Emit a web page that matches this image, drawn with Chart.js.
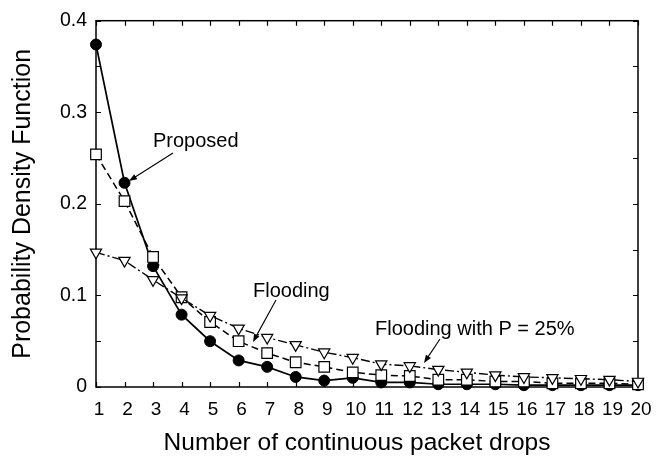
<!DOCTYPE html>
<html>
<head>
<meta charset="utf-8">
<script src="https://cdn.jsdelivr.net/npm/chart.js@4.4.1/dist/chart.umd.min.js"></script>
<style>
  html, body { margin: 0; padding: 0; background: #fff; }
  #wrap { width: 662px; height: 460px; }
</style>
</head>
<body>
<div id="wrap"><canvas id="pdfChart" width="662" height="460"></canvas></div>
<script>
// number of continuous packet drops (x axis)
const drops = [1, 2, 3, 4, 5, 6, 7, 8, 9, 10, 11, 12, 13, 14, 15, 16, 17, 18, 19, 20];

// probability density per scheme
const proposed   = [0.374, 0.223, 0.132, 0.079, 0.050, 0.029, 0.022, 0.011, 0.007, 0.010,
                    0.005, 0.005, 0.003, 0.003, 0.003, 0.002, 0.002, 0.002, 0.002, 0.002];
const flooding   = [0.254, 0.203, 0.142, 0.098, 0.071, 0.050, 0.037, 0.027, 0.022, 0.016,
                    0.013, 0.012, 0.008, 0.008, 0.006, 0.006, 0.004, 0.004, 0.004, 0.003];
const flooding25 = [0.147, 0.138, 0.117, 0.097, 0.078, 0.064, 0.054, 0.046, 0.038, 0.032,
                    0.025, 0.023, 0.019, 0.016, 0.013, 0.011, 0.010, 0.009, 0.008, 0.006];

const yMin = 0, yMax = 0.4, yStep = 0.05;   // labels only every 0.1
const xMin = 1, xMax = 20;
const xTitle = 'Number of continuous packet drops';
const yTitle = 'Probability Density Function';

const FONT = "'Liberation Sans', Arial, Helvetica, sans-serif";

function toPoints(values) {
    return drops.map((d, i) => ({ x: d, y: values[i] }));
}

// frame box + inward ticks on all four sides
const frameTicks = {
    id: 'frameTicks',
    beforeDatasetsDraw(chart) {
        const { ctx, chartArea: a, scales: { x, y } } = chart;
        const len = 5;
        ctx.save();
        ctx.strokeStyle = '#000';
        ctx.lineWidth = 1.2;
        ctx.beginPath();
        x.ticks.forEach(t => {
            const px = Math.round(x.getPixelForValue(t.value)) + 0.5;
            ctx.moveTo(px, a.bottom); ctx.lineTo(px, a.bottom - len);
            ctx.moveTo(px, a.top);    ctx.lineTo(px, a.top + len);
        });
        y.ticks.forEach(t => {
            const py = Math.round(y.getPixelForValue(t.value)) + 0.5;
            ctx.moveTo(a.left, py);  ctx.lineTo(a.left + len, py);
            ctx.moveTo(a.right, py); ctx.lineTo(a.right - len, py);
        });
        ctx.stroke();
        ctx.lineWidth = 1.5;
        ctx.strokeRect(a.left, a.top, a.right - a.left, a.bottom - a.top);
        ctx.restore();
    }
};

// curve names with pointer arrows
const notes = [
    { text: 'Proposed',              tx: 153, ty: 147, from: [173, 153], to: [129, 181] },
    { text: 'Flooding',              tx: 253, ty: 297, from: [276, 300], to: [253, 342] },
    { text: 'Flooding with P = 25%', tx: 375, ty: 335, from: [440, 339], to: [424, 363] }
];

function arrow(ctx, [x0, y0], [x1, y1]) {
    const ang = Math.atan2(y1 - y0, x1 - x0);
    const hl = 8, hw = 3;
    ctx.beginPath();
    ctx.moveTo(x0, y0);
    ctx.lineTo(x1 - Math.cos(ang) * hl * 0.8, y1 - Math.sin(ang) * hl * 0.8);
    ctx.stroke();
    ctx.beginPath();
    ctx.moveTo(x1, y1);
    ctx.lineTo(x1 - Math.cos(ang) * hl + Math.sin(ang) * hw, y1 - Math.sin(ang) * hl - Math.cos(ang) * hw);
    ctx.lineTo(x1 - Math.cos(ang) * hl - Math.sin(ang) * hw, y1 - Math.sin(ang) * hl + Math.cos(ang) * hw);
    ctx.closePath();
    ctx.fill();
}

const annotations = {
    id: 'annotations',
    afterDatasetsDraw(chart) {
        const { ctx } = chart;
        ctx.save();
        ctx.fillStyle = '#000';
        ctx.strokeStyle = '#000';
        ctx.lineWidth = 1.1;
        ctx.font = '20px ' + FONT;
        ctx.textBaseline = 'alphabetic';
        ctx.textAlign = 'left';
        notes.forEach(n => {
            ctx.fillText(n.text, n.tx, n.ty);
            arrow(ctx, n.from, n.to);
        });
        // x axis title, sits a little left of the plot centre
        ctx.font = '24.5px ' + FONT;
        ctx.textAlign = 'center';
        ctx.textBaseline = 'middle';
        ctx.fillText(xTitle, 357, 443);
        ctx.restore();
    }
};

new Chart(document.getElementById('pdfChart'), {
    type: 'line',
    data: {
        datasets: [
            {
                label: 'Proposed',
                data: toPoints(proposed),
                borderColor: '#000',
                borderWidth: 1.7,
                pointStyle: 'circle',
                pointRadius: 5.5,
                pointBackgroundColor: '#000',
                pointBorderColor: '#000',
                pointBorderWidth: 1,
                order: 3
            },
            {
                label: 'Flooding',
                data: toPoints(flooding),
                borderColor: '#000',
                borderWidth: 1.5,
                borderDash: [7, 4],
                pointStyle: 'rect',
                pointRadius: 7.5,
                pointBackgroundColor: '#fff',
                pointBorderColor: '#000',
                pointBorderWidth: 1.2,
                order: 2
            },
            {
                label: 'Flooding with P = 25%',
                data: toPoints(flooding25),
                borderColor: '#000',
                borderWidth: 1.4,
                borderDash: [9, 3, 2, 3],
                pointStyle: 'triangle',
                pointRotation: 180,
                pointRadius: 6.5,
                pointBackgroundColor: '#fff',
                pointBorderColor: '#000',
                pointBorderWidth: 1.2,
                order: 1
            }
        ]
    },
    options: {
        responsive: false,
        devicePixelRatio: 1,
        animation: false,
        clip: false,
        layout: { padding: { left: 0, right: 24, top: 20, bottom: 0 } },
        plugins: { legend: { display: false }, tooltip: { enabled: false } },
        scales: {
            x: {
                type: 'linear',
                min: xMin,
                max: xMax,
                grid: { display: false, drawTicks: false },
                border: { display: false },
                ticks: {
                    stepSize: 1,
                    autoSkip: false,
                    maxRotation: 0,
                    padding: 11,
                    labelOffset: 3,
                    color: '#000',
                    font: { family: FONT, size: 19 }
                },
                afterFit(scale) { scale.height = 73; }
            },
            y: {
                min: yMin,
                max: yMax,
                grid: { display: false, drawTicks: false },
                border: { display: false },
                ticks: {
                    stepSize: yStep,
                    padding: 9,
                    color: '#000',
                    font: { family: FONT, size: 19.5 },
                    callback: v => (Math.round(v * 100) % 10 === 0 ? String(Math.round(v * 10) / 10) : '')
                },
                title: {
                    display: true,
                    text: yTitle,
                    color: '#000',
                    font: { family: FONT, size: 25, lineHeight: 1 },
                    padding: { top: 11, bottom: 0 }
                },
                afterFit(scale) { scale.width = 96; }
            }
        }
    },
    plugins: [frameTicks, annotations]
});
</script>
</body>
</html>
